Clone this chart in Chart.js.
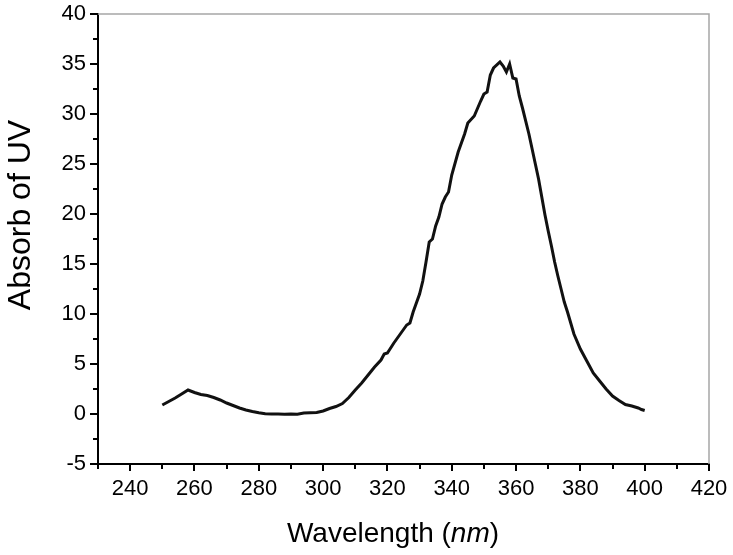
<!DOCTYPE html>
<html><head><meta charset="utf-8">
<script src="https://cdn.jsdelivr.net/npm/chart.js@4/dist/chart.umd.min.js"></script>
<style>html,body{margin:0;padding:0;background:#fff}#wrap{width:733px;height:555px;position:relative}</style>
</head><body><div id="wrap"><canvas id="c" width="733" height="555"></canvas></div>
<script>
const wavelengths = [250,252,254,256,258,260,262,264,266,268,270,272,274,276,278,280,282,284,286,288,290,292,294,296,298,300,302,304,306,308,310,312,314,316,318,319,320,322,324,326,327,328,330,331,332,333,334,335,336,337,338,339,340,342,344,345,347,349,350,351,352,353,355,356,357,358,359,360,361,362,364,365,366,367,368,369,370,371,372,373,374,375,376,378,380,382,384,386,388,390,392,394,396,398,399,400];
const absorbance = [0.9,1.25,1.6,2.0,2.4,2.15,1.95,1.85,1.65,1.4,1.1,0.85,0.6,0.4,0.25,0.12,0.02,0.0,0.0,-0.02,0.0,-0.03,0.1,0.12,0.15,0.3,0.55,0.75,1.05,1.65,2.4,3.1,3.9,4.7,5.4,6.0,6.1,7.1,8.0,8.9,9.1,10.2,12.0,13.3,15.2,17.2,17.5,18.8,19.7,21.0,21.7,22.2,23.9,26.2,28.0,29.1,29.8,31.3,32.0,32.2,33.9,34.6,35.2,34.8,34.2,35.0,33.6,33.5,31.8,30.6,28.0,26.5,25.0,23.5,21.7,19.9,18.3,16.8,15.2,13.8,12.5,11.2,10.2,8.0,6.5,5.3,4.1,3.3,2.5,1.8,1.35,0.95,0.8,0.6,0.45,0.35];
const xTickLabels = [240,260,280,300,320,340,360,380,400,420];
const xMinorTicks = [230,250,270,290,310,330,350,370,390,410];
const yTickLabels = [-5,0,5,10,15,20,25,30,35,40];
const yMinorTicks = [-2.5,2.5,7.5,12.5,17.5,22.5,27.5,32.5,37.5];
const xTitleParts = ['Wavelength (', 'nm', ')'];
const yTitle = 'Absorb of UV';

const FONT = '"Liberation Sans", Arial, sans-serif';

const decor = {
  id: 'decor',
  afterDraw(chart) {
    const ctx = chart.ctx, a = chart.chartArea;
    const xs = chart.scales.x, ys = chart.scales.y;
    ctx.save();
    // gray top/right frame
    ctx.strokeStyle = '#a6a6a6'; ctx.lineWidth = 1.5;
    ctx.beginPath();
    ctx.moveTo(a.left, a.top); ctx.lineTo(a.right, a.top); ctx.lineTo(a.right, a.bottom);
    ctx.stroke();
    // ticks
    ctx.strokeStyle = '#000'; ctx.lineWidth = 2;
    ctx.beginPath();
    xTickLabels.forEach(v => { const p = Math.round(xs.getPixelForValue(v)); ctx.moveTo(p, a.bottom); ctx.lineTo(p, a.bottom + 7); });
    xMinorTicks.forEach(v => { const p = Math.round(xs.getPixelForValue(v)); ctx.moveTo(p, a.bottom); ctx.lineTo(p, a.bottom + 5); });
    yTickLabels.forEach(v => { const p = Math.round(ys.getPixelForValue(v)); ctx.moveTo(a.left, p); ctx.lineTo(a.left - 8, p); });
    yMinorTicks.forEach(v => { const p = Math.round(ys.getPixelForValue(v)); ctx.moveTo(a.left, p); ctx.lineTo(a.left - 5, p); });
    ctx.stroke();
    ctx.fillStyle = '#000';
    // x title with italic part
    ctx.textBaseline = 'alphabetic';
    ctx.textAlign = 'left';
    const fonts = ['28px ' + FONT, 'italic 28px ' + FONT, '28px ' + FONT];
    let total = 0;
    const widths = xTitleParts.map((t, i) => { ctx.font = fonts[i]; const w = ctx.measureText(t).width; total += w; return w; });
    let x = 393 - total / 2;
    xTitleParts.forEach((t, i) => { ctx.font = fonts[i]; ctx.fillText(t, x, 542); x += widths[i]; });
    // y title
    ctx.save();
    ctx.translate(30, 215);
    ctx.rotate(-Math.PI / 2);
    ctx.font = '32px ' + FONT;
    ctx.textAlign = 'center';
    ctx.textBaseline = 'alphabetic';
    ctx.fillText(yTitle, 0, 0);
    ctx.restore();
    ctx.restore();
  }
};

new Chart(document.getElementById('c'), {
  type: 'scatter',
  data: {
    datasets: [{
      data: wavelengths.map((w, i) => ({x: w, y: absorbance[i]})),
      showLine: true,
      borderColor: '#111',
      borderWidth: 3,
      pointRadius: 0,
      tension: 0,
      fill: false
    }]
  },
  options: {
    responsive: false,
    animation: false,
    devicePixelRatio: 1,
    layout: {padding: {top: 14, right: 24, left: 0, bottom: 0}},
    plugins: {legend: {display: false}, tooltip: {enabled: false}},
    scales: {
      x: {
        type: 'linear', min: 230, max: 420,
        afterBuildTicks: s => { s.ticks = xTickLabels.map(v => ({value: v})); },
        afterFit: s => { s.height = 91; s.paddingLeft = 0; s.paddingRight = 0; },
        grid: {display: true, drawOnChartArea: false, drawTicks: false},
        border: {display: true, color: '#000', width: 2},
        ticks: {color: '#000', font: {family: FONT, size: 22}, padding: 12, maxRotation: 0, autoSkip: false}
      },
      y: {
        type: 'linear', min: -5, max: 40,
        afterBuildTicks: s => { s.ticks = yTickLabels.map(v => ({value: v})); },
        afterFit: s => { s.width = 98; s.paddingTop = 0; s.paddingBottom = 0; },
        grid: {display: true, drawOnChartArea: false, drawTicks: false},
        border: {display: true, color: '#000', width: 2},
        ticks: {color: '#000', font: {family: FONT, size: 22}, padding: 12, autoSkip: false}
      }
    }
  },
  plugins: [decor]
});
</script>
</body></html>
